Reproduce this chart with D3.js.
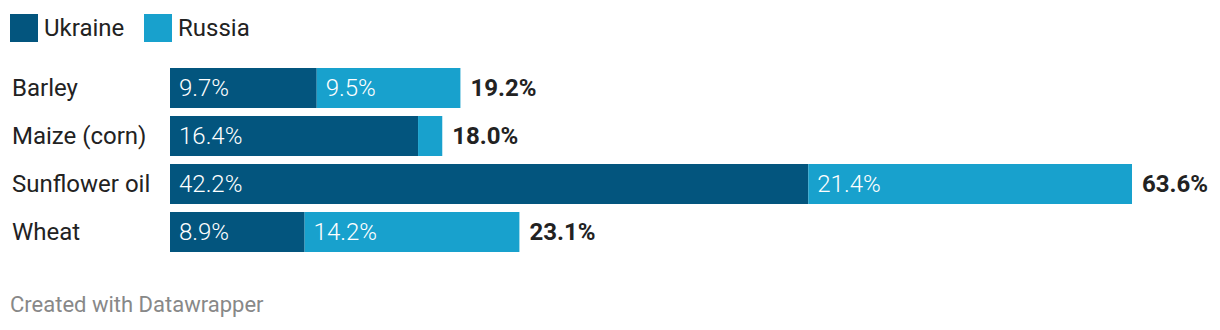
<!DOCTYPE html>
<html><head><meta charset="utf-8">
<script src="https://cdn.jsdelivr.net/npm/d3@7"></script>
<style>body{margin:0;background:#fff;font-family:Roboto,sans-serif;}</style>
</head><body>
<svg id="c" width="1220" height="330"></svg>
<script>
const categories = ["Barley", "Maize (corn)", "Sunflower oil", "Wheat"];
const ukraine = [9.7, 16.4, 42.2, 8.9];
const russia = [9.5, 1.6, 21.4, 14.2];
const totals = [19.2, 18.0, 63.6, 23.1];
const seriesNames = ["Ukraine", "Russia"];
const colors = ["#03557e", "#18a1cd"];

const svg = d3.select("#c");
const x = d3.scaleLinear().domain([0, 63.6]).range([170, 1132]);
const y2 = d3.scaleBand().domain(categories).range([64, 256]).paddingInner(1/6).paddingOuter(1/12);
const fs = 24;

// legend
const leg = svg.append("g");
const legX = [10, 144];
seriesNames.forEach((n, i) => {
  leg.append("rect").attr("x", legX[i]).attr("y", 14).attr("width", 28).attr("height", 28).attr("fill", colors[i]);
  leg.append("text").attr("x", legX[i] + 34).attr("y", 28).attr("dy", "0.35em")
    .attr("font-size", fs).attr("fill", "#222").text(n);
});

const rows = svg.append("g").selectAll("g").data(categories).join("g")
  .attr("transform", d => `translate(0,${y2(d)})`);
const bh = y2.bandwidth();

rows.append("text").attr("x", 12).attr("y", bh/2).attr("dy", "0.35em")
  .attr("font-size", fs).attr("fill", "#222").text(d => d);

rows.append("rect").attr("x", x(0)).attr("y", 0).attr("height", bh)
  .attr("width", (d,i) => x(ukraine[i]) - x(0)).attr("fill", colors[0]);
rows.append("rect").attr("x", (d,i) => x(ukraine[i])).attr("y", 0).attr("height", bh)
  .attr("width", (d,i) => x(ukraine[i] + russia[i]) - x(ukraine[i])).attr("fill", colors[1]);

rows.append("text").attr("x", x(0) + 9).attr("y", bh/2).attr("dy", "0.35em")
  .attr("font-size", fs).attr("font-weight", 300).attr("fill", "#fff").text((d,i) => ukraine[i].toFixed(1) + "%");
rows.filter((d,i) => russia[i] > 3).append("text")
  .attr("x", d => x(ukraine[categories.indexOf(d)]) + 9).attr("y", bh/2).attr("dy", "0.35em")
  .attr("font-size", fs).attr("font-weight", 300).attr("fill", "#fff").text(d => russia[categories.indexOf(d)].toFixed(1) + "%");

rows.append("text").attr("x", (d,i) => x(totals[i]) + 10).attr("y", bh/2).attr("dy", "0.35em")
  .attr("font-size", fs).attr("font-weight", "bold").attr("fill", "#222").text((d,i) => totals[i].toFixed(1) + "%");

svg.append("text").attr("x", 10).attr("y", 304).attr("dy", "0.35em")
  .attr("font-size", 22).attr("fill", "#888").text("Created with Datawrapper");
</script>
</body></html>
